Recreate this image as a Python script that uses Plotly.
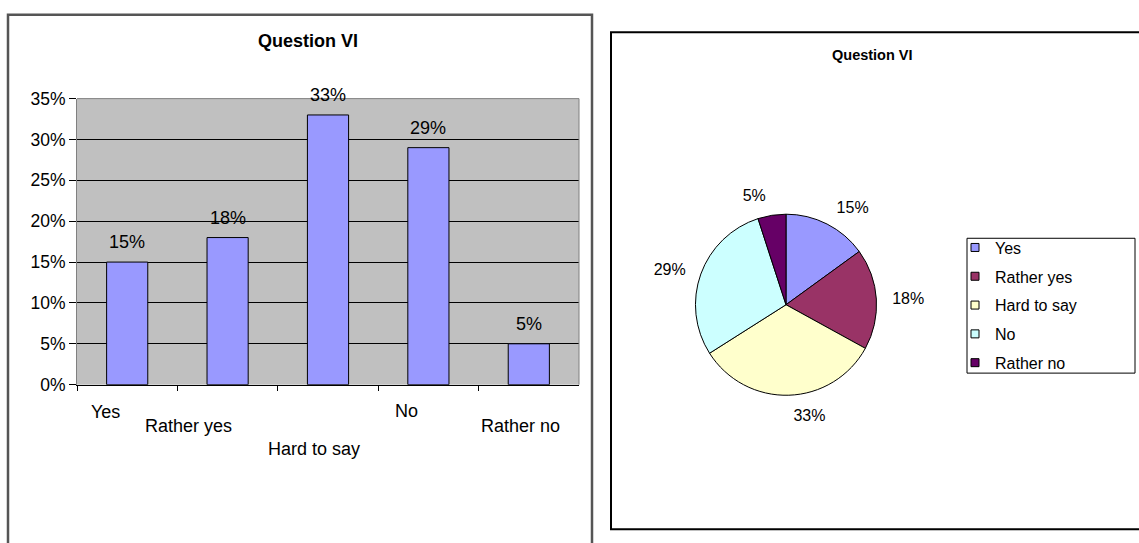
import plotly.graph_objects as go

# Survey answers for "Question VI"
categories = ["Yes", "Rather yes", "Hard to say", "No", "Rather no"]
shares_pct = [15, 18, 33, 29, 5]
slice_colors = ["#9999FF", "#993366", "#FFFFCC", "#CCFFFF", "#660066"]
y_ticks = [0, 0.05, 0.10, 0.15, 0.20, 0.25, 0.30, 0.35]
title_text = "Question VI"

W, H = 1139, 543
FONT = "Liberation Sans, Arial, sans-serif"
BAR_FONT = 18


def px_x(p):
    return p / W


def px_y(p):
    return 1 - p / H


fig = go.Figure()

# ---- Left: column chart ----
fig.add_trace(go.Bar(
    x=categories,
    y=[v / 100 for v in shares_pct],
    width=0.41,
    marker=dict(color="#9999FF", line=dict(color="black", width=1)),
    showlegend=False,
    hoverinfo="x+y",
    xaxis="x", yaxis="y",
))

# value labels above each column
annotations = []
for cat, v in zip(categories, shares_pct):
    annotations.append(dict(
        x=cat, y=v / 100, xref="x", yref="y",
        text=f"{v}%", showarrow=False, xanchor="center", yanchor="middle", yshift=20,
        font=dict(family=FONT, size=BAR_FONT, color="black"),
    ))

# staggered category labels under the axis (row in px, horizontal nudge)
label_rows = [417, 432, 456, 416, 432]
label_nudge = [-22, -39, -14, -22, -8]
for cat, row, dx in zip(categories, label_rows, label_nudge):
    annotations.append(dict(
        x=cat, y=px_y(row), xref="x", yref="paper",
        text=cat, showarrow=False, xshift=dx, xanchor="center", yanchor="middle",
        font=dict(family=FONT, size=BAR_FONT, color="black"),
    ))

# ---- Right: pie chart ----
pie_cx, pie_cy, pie_r = 786, 306, 94
label_r = pie_r + 12

fig.add_trace(go.Pie(
    labels=categories,
    values=shares_pct,
    sort=False,
    direction="clockwise",
    rotation=0,
    marker=dict(colors=slice_colors, line=dict(color="black", width=1)),
    textinfo="none",
    showlegend=False,
    domain=dict(x=[px_x(pie_cx - pie_r), px_x(pie_cx + pie_r)],
                y=[px_y(pie_cy + pie_r), px_y(pie_cy - pie_r)]),
))

# transparent ring carrying the percentage labels a little off the pie edge
fig.add_trace(go.Pie(
    labels=categories,
    values=shares_pct,
    sort=False,
    direction="clockwise",
    rotation=0,
    marker=dict(colors=["rgba(0,0,0,0)"] * len(categories),
                line=dict(width=0)),
    textposition="outside",
    texttemplate="%{value}%",
    textfont=dict(family=FONT, size=16, color="black"),
    outsidetextfont=dict(family=FONT, size=16, color="black"),
    showlegend=False,
    hoverinfo="skip",
    domain=dict(x=[px_x(pie_cx - label_r), px_x(pie_cx + label_r)],
                y=[px_y(pie_cy + label_r), px_y(pie_cy - label_r)]),
))

# legend entries for the pie slices
for cat, col in zip(categories, slice_colors):
    fig.add_trace(go.Scatter(
        x=[None], y=[None], mode="markers", name=cat, legendgroup=cat,
        marker=dict(symbol="square", size=8, color=col,
                    line=dict(color="black", width=1)),
        xaxis="x", yaxis="y", hoverinfo="skip",
    ))

# titles
annotations.append(dict(
    x=px_x(308), y=px_y(32), xref="paper", yref="paper", text=f"<b>{title_text}</b>",
    showarrow=False, xanchor="center", yanchor="middle",
    font=dict(family=FONT, size=18, color="black"),
))
annotations.append(dict(
    x=px_x(872), y=px_y(47), xref="paper", yref="paper", text=f"<b>{title_text}</b>",
    showarrow=False, xanchor="center", yanchor="middle",
    font=dict(family=FONT, size=14.5, color="black"),
))

shapes = [
    # left chart frame
    dict(type="rect", xref="paper", yref="paper",
         x0=px_x(8), x1=px_x(592), y0=px_y(560), y1=px_y(5),
         line=dict(color="#555555", width=2.5), fillcolor="rgba(0,0,0,0)"),
    # right chart frame
    dict(type="rect", xref="paper", yref="paper",
         x0=px_x(611), x1=px_x(1145), y0=px_y(539), y1=px_y(23),
         line=dict(color="black", width=2), fillcolor="rgba(0,0,0,0)"),
    # legend box
    dict(type="rect", xref="paper", yref="paper",
         x0=px_x(967), x1=px_x(1135), y0=px_y(377), y1=px_y(237),
         line=dict(color="black", width=1), fillcolor="rgba(0,0,0,0)"),
    # plot area outline (top and right edges)
    dict(type="path", xref="paper", yref="paper",
         path=f"M {px_x(77)},{px_y(92)} L {px_x(579)},{px_y(92)} L {px_x(579)},{px_y(389)}",
         line=dict(color="#808080", width=1)),
]

fig.update_layout(
    width=W, height=H,
    margin=dict(l=0, r=0, t=0, b=0),
    paper_bgcolor="white",
    plot_bgcolor="#C0C0C0",
    font=dict(family=FONT, color="black"),
    xaxis=dict(
        domain=[px_x(77), px_x(579)],
        type="category", range=[-0.5, 4.5],
        tickson="boundaries", ticks="outside", ticklen=5, tickcolor="black",
        showticklabels=False, showgrid=False,
        showline=True, linecolor="black", linewidth=1,
        fixedrange=True,
    ),
    yaxis=dict(
        domain=[px_y(389), px_y(92)],
        range=[0, 0.35], tickvals=y_ticks, tickformat=".0%",
        ticks="outside", ticklen=7, tickcolor="black",
        tickfont=dict(family=FONT, size=17.5, color="black"),
        showgrid=True, gridcolor="black", gridwidth=1,
        zeroline=False,
        showline=True, linecolor="#808080", linewidth=1,
        fixedrange=True,
    ),
    legend=dict(
        x=px_x(955), y=px_y(229), xanchor="left", yanchor="top",
        font=dict(family=FONT, size=16, color="black"),
        bgcolor="rgba(0,0,0,0)", borderwidth=0,
        tracegroupgap=5, itemwidth=30,
    ),
    annotations=annotations,
    shapes=shapes,
    bargap=0.59,
)

fig.write_html("out.html")
